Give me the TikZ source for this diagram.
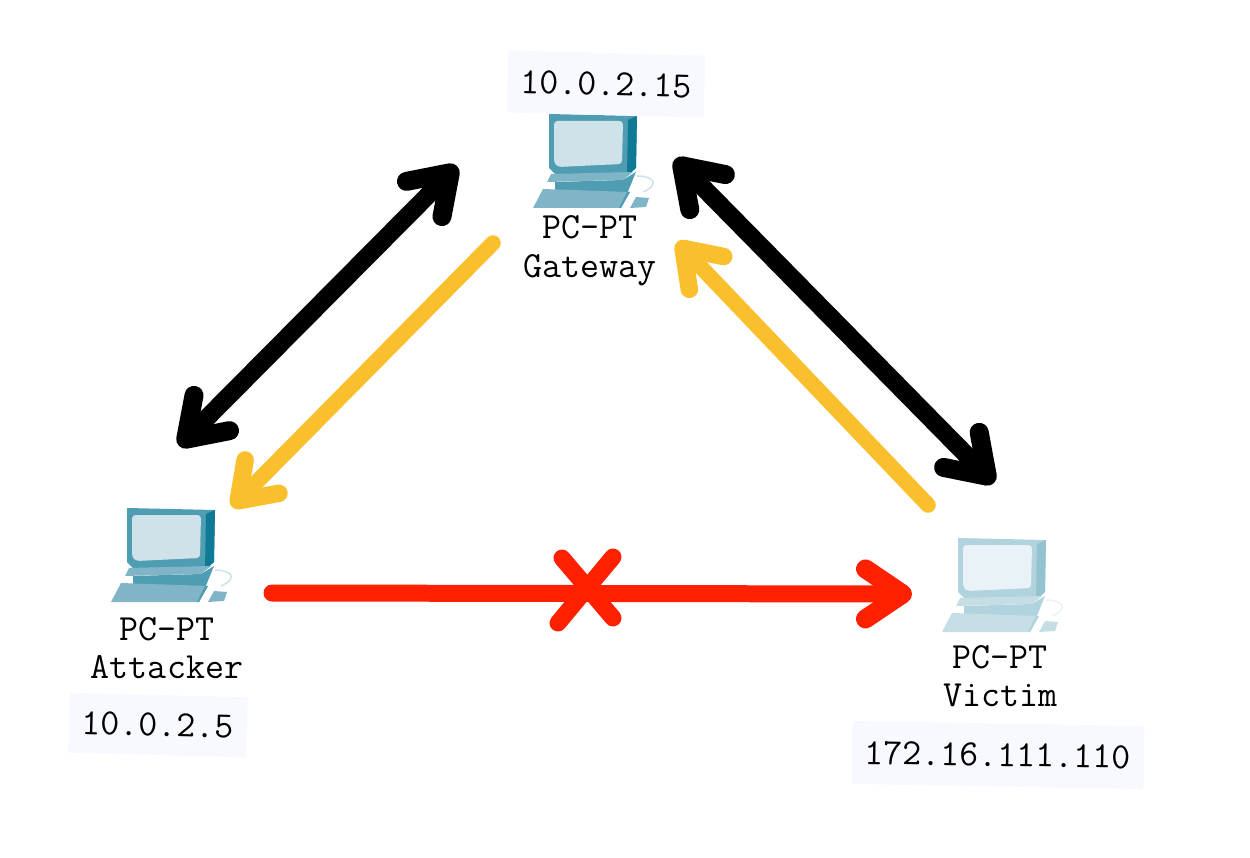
\documentclass[tikz,border=0pt]{standalone}
\usepackage{tikz}
\usetikzlibrary{arrows.meta,positioning}
\definecolor{pcbody}{HTML}{4F9DB3}
\definecolor{pcside}{HTML}{0F7A96}
\definecolor{pcscreen}{HTML}{CFE2EA}
\definecolor{pckeys}{HTML}{7FB5C7}
\definecolor{boxtint}{HTML}{F8F8FF}
\definecolor{arrowyellow}{HTML}{F9BF2C}
\definecolor{arrowred}{HTML}{FF2000}
\tikzset{
 iplabel/.style={fill=boxtint, font=\ttfamily\fontsize{21}{23}\selectfont, inner sep=0pt},
 pclabel/.style={font=\ttfamily\fontsize{21}{22}\selectfont, align=center, inner sep=0pt},
 link/.style={line cap=round, >={Straight Barb[length=.74cm,width=1cm,round,line width=.38cm]}},
 blacklink/.style={link, line width=.36cm},
 yellowlink/.style={link, arrowyellow, line width=.31cm, >={Straight Barb[length=.68cm,width=.95cm,round,line width=.35cm]}},
 redlink/.style={link, arrowred, line width=.34cm},
 pics/pcicon/.style={code={
  \fill[pcbody!#1!white] (0,0) -- (88,2) -- (87,54) -- (78,62) -- (8,62) -- (0,54) -- cycle;
  \fill[pcside!#1!white] (88,2) -- (87,54) -- (78,62) -- (79,6) -- cycle;
  \fill[pcscreen!#1!white, rounded corners=2pt] (5,7) -- (74,7) -- (73,50) -- (9,53) -- (5,49) -- cycle;
  % stand
  \fill[pcbody!#1!white] (6,68) -- (74,66) -- (87,58) -- (78,80) -- (6,80) -- cycle;
  \fill[pckeys!#1!white] (2,60) -- (84,58) -- (74,66) -- (-2,68) -- cycle;
  % keyboard and mouse
  \draw[pcscreen!#1!white, line width=.03cm] (88,62) .. controls (104,62) and (112,70) .. (94,78);
  \fill[pckeys!#1!white] (-6,75) -- (81,78) -- (72,94) -- (-16,94) -- cycle;
  \fill[pcbody!#1!white] (81,78) -- (72,94) -- (70,94) -- (78,78) -- cycle;
  \fill[pckeys!#1!white] (87,83) -- (100,84) -- (97,93) -- (81,94) -- cycle;
 }},
 pics/pcicon/.default=100
}

\begin{document}
\begin{tikzpicture}[x=0.02cm, y=-0.02cm]
 \useasboundingbox (0,0) rectangle (1250,858);

 \pic at (549,114) {pcicon};
 \pic at (127,508) {pcicon};
 \pic at (958,538) {pcicon=45};

 \node[pclabel] (gateway) at (590,251) {PC-PT\\Gateway};
 \node[pclabel] (attacker) at (167,648) {PC-PT\\Attacker};
 \node[pclabel] (victim) at (1000,676) {PC-PT\\Victim};

 \node[iplabel, minimum width=3.94cm, minimum height=1.24cm, rotate=-1.5] (gatewayip) at (606,84) {10.0.2.15};
 \node[iplabel, minimum width=3.56cm, minimum height=1.2cm, rotate=-1.5] (attackerip) at (158,725) {10.0.2.5};
 \node[iplabel, minimum width=5.84cm, minimum height=1.26cm, rotate=-1] (victimip) at (998,755) {172.16.111.110};

 \coordinate (blackgatel) at (457,166);
 \coordinate (blackattack) at (179,446);
 \coordinate (blackgater) at (675,159);
 \coordinate (blackvictim) at (994,483);
 \coordinate (yellowgatel) at (493,243);
 \coordinate (yellowattack) at (232,507);
 \coordinate (yellowvictim) at (928,505);
 \coordinate (yellowgater) at (677,242);
 \coordinate (redattack) at (272,593);
 \coordinate (redvictim) at (912,594);
 \coordinate (crossa) at (613,557);
 \coordinate (crossb) at (558,623);
 \coordinate (crossc) at (562,558);
 \coordinate (crossd) at (613,618);

 \draw[blacklink, <->] (blackattack) -- (blackgatel);
 \draw[blacklink, <->] (blackgater) -- (blackvictim);
 \draw[yellowlink, ->] (yellowgatel) -- (yellowattack);
 \draw[yellowlink, ->] (yellowvictim) -- (yellowgater);
 \draw[redlink, ->] (redattack) -- (redvictim);
 \draw[redlink] (crossa) -- (crossb);
 \draw[redlink] (crossc) -- (crossd);
\end{tikzpicture}
\end{document}
